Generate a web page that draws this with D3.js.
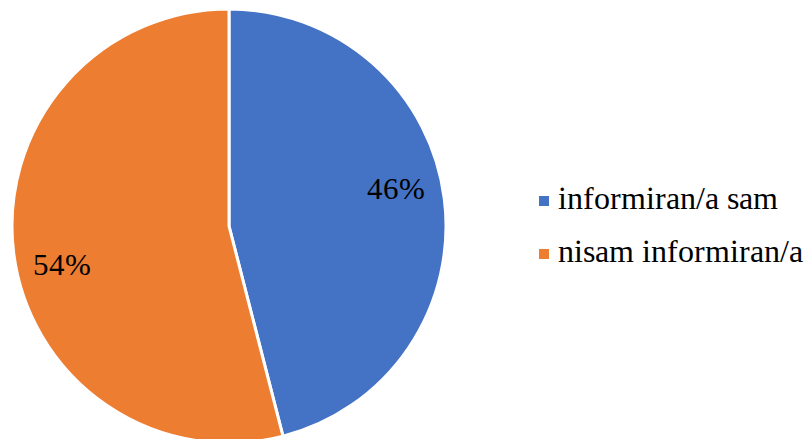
<!DOCTYPE html>
<html><head><meta charset="UTF-8"/><script src="https://d3js.org/d3.v7.min.js"></script>
<style>
@font-face { font-family: "ChartSerif"; src: local("Liberation Serif"), local("LiberationSerif"), local("Times New Roman"), local("FreeSerif"); }
</style>
</head>
<body style="margin:0">
<script>
var categories = ["informiran/a sam", "nisam informiran/a"];
var values = [46, 54];
var colors = ["#4472C4", "#ED7D31"];

var w = 807;
var h = 439;
var cx = 229;
var cy = 226;
var radius = 217;
var font = "ChartSerif, Times, 'Liberation Serif', FreeSerif, serif";

var svg = d3.select("body").append("svg")
    .attr("width", w)
    .attr("height", h);

var pie = d3.pie().sort(null).value(function(d) { return d; });
var arcs = pie(values);

var arc = d3.arc().innerRadius(0).outerRadius(radius);
var labelArc = d3.arc().innerRadius(radius * 0.775).outerRadius(radius * 0.775);

var g = svg.append("g").attr("transform", "translate(" + cx + "," + cy + ")");

g.selectAll("path")
    .data(arcs)
    .enter()
    .append("path")
    .attr("d", arc)
    .attr("fill", function(d, i) { return colors[i]; })
    .attr("stroke", "white")
    .attr("stroke-width", 3);

// excel pushes the labels a bit further up/down than the plain centroid
g.selectAll("text")
    .data(arcs)
    .enter()
    .append("text")
    .attr("x", function(d) { return labelArc.centroid(d)[0]; })
    .attr("y", function(d) { return labelArc.centroid(d)[1] * 1.8 + 11; })
    .attr("text-anchor", "middle")
    .attr("font-size", "31px")
    .style("font-family", font)
    .text(function(d) { return d.data + "%"; });

var legend = svg.append("g").attr("transform", "translate(539,190)");

var item = legend.selectAll("g")
    .data(categories)
    .enter()
    .append("g")
    .attr("transform", function(d, i) { return "translate(0," + (i * 53) + ")"; });

item.append("rect")
    .attr("x", 0)
    .attr("y", 6)
    .attr("width", 10)
    .attr("height", 10)
    .attr("fill", function(d, i) { return colors[i]; });

item.append("text")
    .attr("x", 19)
    .attr("y", 19)
    .attr("font-size", "32px")
    .style("font-family", font)
    .text(function(d) { return d; });
</script>
</body></html>
